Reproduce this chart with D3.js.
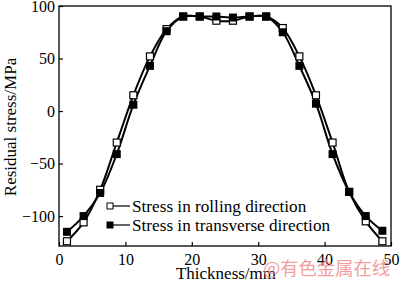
<!DOCTYPE html>
<html>
<head>
<meta charset="utf-8">
<script src="https://cdn.jsdelivr.net/npm/d3@7/dist/d3.min.js"></script>
<style>
  body { margin: 0; background: #fff; }
  text { font-family: "Liberation Serif", "Times New Roman", serif; }
</style>
</head>
<body>
<div class="chart"></div>
<script>
	// data
	var thickness = [1.2, 3.7, 6.2, 8.7, 11.2, 13.7, 16.2, 18.7, 21.2, 23.7,
		26.2, 28.7, 31.2, 33.7, 36.2, 38.7, 41.2, 43.7, 46.2, 48.7];
	var rolling = [-124, -106, -75, -30, 15, 52, 78, 90, 90, 86,
		86, 90, 90, 79, 52, 15, -30, -77, -105, -124];
	var transverse = [-115, -100, -78, -41, 6, 43, 76, 90, 90, 90,
		89, 90, 90, 75, 43, 7, -41, -77, -100, -114];
	var xTicks = [0, 10, 20, 30, 40, 50];
	var yTicks = [-100, -50, 0, 50, 100];
	var seriesNames = ["Stress in rolling direction", "Stress in transverse direction"];

	var width = 400, height = 283;
	var margin = { left: 59, right: 8, top: 6, bottom: 37 };

	var svg = d3.select(".chart")
		.append("svg")
			.attr("width", width)
			.attr("height", height);

	// X Scale
	var x = d3.scaleLinear()
		.domain([0, 50])
		.range([margin.left, width - margin.right - 1]);

	// Y Scale
	var y = d3.scaleLinear()
		.domain([-128.5, 100])
		.range([height - margin.bottom, margin.top]);

	// frame
	svg.append("rect")
		.attr("x", x(0))
		.attr("y", y(100))
		.attr("width", x(50) - x(0))
		.attr("height", y(-128.5) - y(100))
		.attr("fill", "none")
		.attr("stroke", "#000")
		.attr("stroke-width", 1.3);

	// X Axis (ticks inward)
	var xAxis = svg.append("g")
		.attr("transform", "translate(0," + y(-128.5) + ")")
		.call(d3.axisBottom(x).tickValues(xTicks).tickSizeInner(-4).tickSizeOuter(0).tickPadding(8));
	xAxis.select(".domain").remove();
	xAxis.selectAll("text")
		.attr("font-size", "16px")
		.attr("font-family", "Liberation Serif, serif");
	xAxis.selectAll("line").attr("stroke-width", 1.2);

	// Y Axis (ticks inward)
	var yAxis = svg.append("g")
		.attr("transform", "translate(" + x(0) + ",0)")
		.call(d3.axisLeft(y).tickValues(yTicks).tickSizeInner(-4).tickSizeOuter(0).tickPadding(4)
			.tickFormat(function(d){ return d < 0 ? "\u2212" + Math.abs(d) : d; }));
	yAxis.select(".domain").remove();
	yAxis.selectAll("text")
		.attr("font-size", "16px")
		.attr("font-family", "Liberation Serif, serif");
	yAxis.selectAll("line").attr("stroke-width", 1.2);

	// X Label
	svg.append("text")
		.attr("x", 226)
		.attr("y", 279)
		.attr("font-size", "17px")
		.attr("text-anchor", "middle")
		.text("Thickness/mm");

	// Y Label
	svg.append("text")
		.attr("transform", "translate(16," + 127 + ") rotate(-90)")
		.attr("font-size", "17px")
		.attr("text-anchor", "middle")
		.text("Residual stress/MPa");

	var line = d3.line()
		.x(function(d){ return x(d[0]); })
		.y(function(d){ return y(d[1]); })
		.curve(d3.curveCatmullRom);

	var rollPts = thickness.map(function(t, i){ return [t, rolling[i]]; });
	var transPts = thickness.map(function(t, i){ return [t, transverse[i]]; });

	[rollPts, transPts].forEach(function(pts){
		svg.append("path")
			.datum(pts)
			.attr("d", line)
			.attr("fill", "none")
			.attr("stroke", "#000")
			.attr("stroke-width", 2);
	});

	// markers
	svg.selectAll(".roll")
		.data(rollPts)
		.enter()
		.append("rect")
			.attr("class", "roll")
			.attr("x", function(d){ return x(d[0]) - 3.5; })
			.attr("y", function(d){ return y(d[1]) - 3.5; })
			.attr("width", 7)
			.attr("height", 7)
			.attr("fill", "#fff")
			.attr("stroke", "#000")
			.attr("stroke-width", 1.2);

	svg.selectAll(".trans")
		.data(transPts)
		.enter()
		.append("rect")
			.attr("class", "trans")
			.attr("x", function(d){ return x(d[0]) - 4; })
			.attr("y", function(d){ return y(d[1]) - 4; })
			.attr("width", 8)
			.attr("height", 8)
			.attr("fill", "#000");

	// legend
	var legend = svg.append("g").attr("transform", "translate(110,206)");
	seriesNames.forEach(function(name, i){
		var g = legend.append("g").attr("transform", "translate(0," + (i * 19) + ")");
		g.append("line")
			.attr("x1", 3).attr("x2", 20)
			.attr("y1", 0).attr("y2", 0)
			.attr("stroke", "#000")
			.attr("stroke-width", 1.2);
		g.append("rect")
			.attr("x", -3).attr("y", -3)
			.attr("width", 6).attr("height", 6)
			.attr("fill", i == 0 ? "#fff" : "#000")
			.attr("stroke", "#000")
			.attr("stroke-width", 1);
		g.append("text")
			.attr("x", 22)
			.attr("y", 6)
			.attr("font-size", "17.2px")
			.text(name);
	});

	// watermark
	svg.append("text")
		.attr("x", 263)
		.attr("y", 275)
		.attr("font-size", "18.3px")
		.attr("fill", "#f08a8a")
		.attr("fill-opacity", 0.85)
		.style("font-family", "Noto Sans CJK SC, sans-serif")
		.text("@有色金属在线");
</script>
</body>
</html>
